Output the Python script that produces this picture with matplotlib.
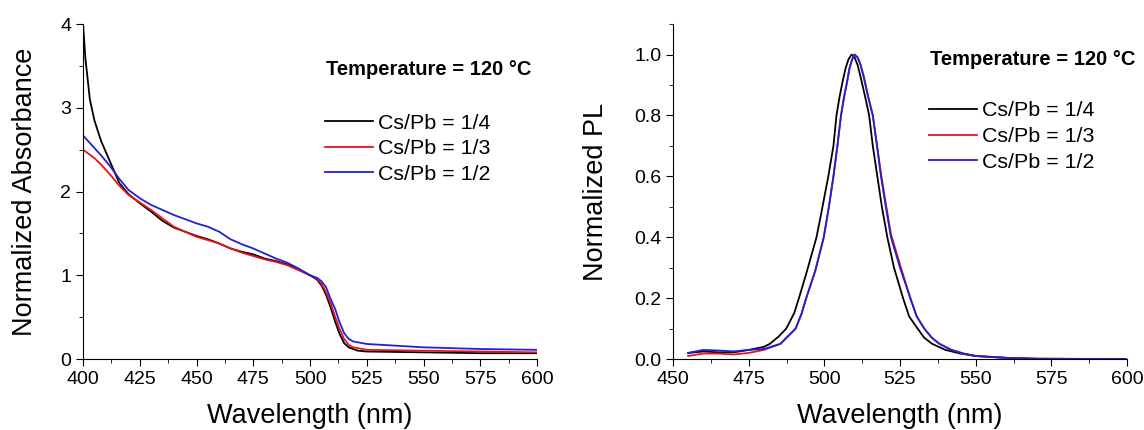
import matplotlib.pyplot as plt
from matplotlib.ticker import MultipleLocator

plt.rcParams['font.family'] = ['Liberation Sans', 'DejaVu Sans']

# absorbance spectra
abs_wl = [400, 401, 403, 405, 408, 412, 416, 420, 425, 430, 435, 440, 445, 450,
          455, 460, 465, 470, 475, 480, 485, 490, 495, 500, 503, 505, 507, 509,
          511, 513, 515, 517, 519, 521, 525, 550, 575, 600]
abs_14 = [4.0, 3.6, 3.1, 2.85, 2.6, 2.35, 2.1, 1.97, 1.86, 1.76, 1.65, 1.57, 1.52, 1.47,
          1.43, 1.38, 1.32, 1.28, 1.25, 1.2, 1.17, 1.13, 1.07, 1.0, 0.95, 0.88, 0.77, 0.62,
          0.45, 0.3, 0.19, 0.14, 0.12, 0.1, 0.09, 0.08, 0.07, 0.07]
abs_13 = [2.5, 2.48, 2.44, 2.4, 2.32, 2.2, 2.07, 1.96, 1.87, 1.78, 1.68, 1.58, 1.52, 1.46,
          1.42, 1.38, 1.32, 1.27, 1.23, 1.19, 1.16, 1.12, 1.06, 1.0, 0.96, 0.9, 0.8, 0.67,
          0.51, 0.36, 0.24, 0.17, 0.14, 0.13, 0.11, 0.1, 0.09, 0.08]
abs_12 = [2.67, 2.64, 2.58, 2.52, 2.43, 2.3, 2.15, 2.02, 1.92, 1.84, 1.78, 1.72, 1.67, 1.62,
          1.58, 1.52, 1.43, 1.37, 1.32, 1.26, 1.2, 1.15, 1.08, 1.0, 0.97, 0.93, 0.86, 0.72,
          0.6, 0.44, 0.31, 0.24, 0.21, 0.2, 0.18, 0.14, 0.12, 0.11]

# PL spectra
pl_wl_14 = [455, 460, 465, 470, 475, 480, 482, 485, 487.4, 490, 491.6, 494, 497.4, 499,
            501.3, 503, 504, 505, 506, 507, 508, 509, 510, 511, 512, 513.5, 514.8, 516,
            517.5, 519, 520.8, 523, 526, 528, 530.8, 533, 535.6, 540, 545, 550, 560, 570, 600]
pl_14 = [0.02, 0.025, 0.022, 0.022, 0.03, 0.04, 0.05, 0.075, 0.1, 0.15, 0.2, 0.28, 0.4, 0.48,
         0.6, 0.7, 0.8, 0.86, 0.91, 0.955, 0.985, 1.0, 0.99, 0.965, 0.925, 0.86, 0.8, 0.7,
         0.6, 0.5, 0.4, 0.3, 0.2, 0.14, 0.1, 0.07, 0.05, 0.03, 0.018, 0.01, 0.004, 0.001, 0.0]
pl_wl = [455, 460, 465, 470, 475, 480, 485.5, 488, 490.5, 492.5, 494, 497, 499.8, 501.5,
         503, 504.3, 505.5, 506.5, 507.5, 508.3, 509.2, 510, 511, 512, 513, 514.5, 516, 517.4,
         518.7, 520.3, 522, 525, 528.4, 530.5, 533, 535.5, 538, 542, 546, 550, 560, 570, 600]
pl_13 = [0.01, 0.018, 0.018, 0.015, 0.02, 0.03, 0.05, 0.075, 0.1, 0.15, 0.2, 0.29, 0.4, 0.5,
         0.6, 0.7, 0.8, 0.86, 0.91, 0.955, 0.985, 1.0, 0.99, 0.965, 0.93, 0.86, 0.8, 0.7,
         0.61, 0.51, 0.41, 0.31, 0.2, 0.14, 0.1, 0.07, 0.05, 0.03, 0.018, 0.01, 0.004, 0.001, 0.0]
pl_12 = [0.02, 0.03, 0.028, 0.025, 0.03, 0.033, 0.05, 0.075, 0.1, 0.15, 0.2, 0.29, 0.4, 0.5,
         0.6, 0.7, 0.8, 0.86, 0.91, 0.955, 0.985, 1.0, 0.99, 0.965, 0.925, 0.86, 0.8, 0.7,
         0.6, 0.5, 0.4, 0.3, 0.2, 0.14, 0.1, 0.07, 0.05, 0.03, 0.018, 0.01, 0.004, 0.001, 0.0]

labels = ['Cs/Pb = 1/4', 'Cs/Pb = 1/3', 'Cs/Pb = 1/2']
colors = ['black', '#e8141c', '#2020d8']

fig = plt.figure(figsize=(11.44, 4.3), dpi=100)
ax1 = fig.add_axes([0.0726, 0.165, 0.3969, 0.779])
ax2 = fig.add_axes([0.5883, 0.165, 0.3969, 0.779])

ax1.plot(abs_wl, abs_14, color=colors[0], lw=1.3, label=labels[0])
ax1.plot(abs_wl, abs_13, color=colors[1], lw=1.3, label=labels[1])
ax1.plot(abs_wl, abs_12, color=colors[2], lw=1.3, label=labels[2])
ax2.plot(pl_wl_14, pl_14, color=colors[0], lw=1.3, label=labels[0])
ax2.plot(pl_wl, pl_13, color=colors[1], lw=1.3, label=labels[1])
ax2.plot(pl_wl, pl_12, color=colors[2], lw=1.3, label=labels[2])

ax1.set_xlim(400, 600)
ax1.set_ylim(0, 4)
ax1.xaxis.set_major_locator(MultipleLocator(25))
ax1.xaxis.set_minor_locator(MultipleLocator(12.5))
ax1.yaxis.set_major_locator(MultipleLocator(1))
ax1.yaxis.set_minor_locator(MultipleLocator(0.5))
ax1.set_ylabel('Normalized Absorbance', fontsize=19.5, labelpad=16)

ax2.set_xlim(450, 600)
ax2.set_ylim(0, 1.1)
ax2.xaxis.set_major_locator(MultipleLocator(25))
ax2.xaxis.set_minor_locator(MultipleLocator(12.5))
ax2.yaxis.set_major_locator(MultipleLocator(0.2))
ax2.yaxis.set_minor_locator(MultipleLocator(0.1))
ax2.yaxis.set_major_formatter(plt.FormatStrFormatter('%.1f'))
ax2.set_ylabel('Normalized PL', fontsize=19.5, labelpad=18)

for ax in (ax1, ax2):
    ax.spines['top'].set_visible(False)
    ax.spines['right'].set_visible(False)
    ax.tick_params(which='major', direction='out', length=5, labelsize=14)
    ax.tick_params(which='minor', direction='out', length=3)
    ax.set_xlabel('Wavelength (nm)', fontsize=19.5, labelpad=11)

ax1.text(0.536, 0.863, 'Temperature = 120 °C', transform=ax1.transAxes,
         fontsize=14.5, fontweight='bold', va='center')
ax1.legend(loc='upper left', bbox_to_anchor=(0.533, 0.733), frameon=False,
           fontsize=15.4, handlelength=2.24, handletextpad=0.23, labelspacing=0.31,
           borderaxespad=0, borderpad=0)
ax2.text(0.566, 0.893, 'Temperature = 120 °C', transform=ax2.transAxes,
         fontsize=14.5, fontweight='bold', va='center')
ax2.legend(loc='upper left', bbox_to_anchor=(0.564, 0.769), frameon=False,
           fontsize=15.4, handlelength=2.24, handletextpad=0.23, labelspacing=0.31,
           borderaxespad=0, borderpad=0)

fig.savefig('out.png')
